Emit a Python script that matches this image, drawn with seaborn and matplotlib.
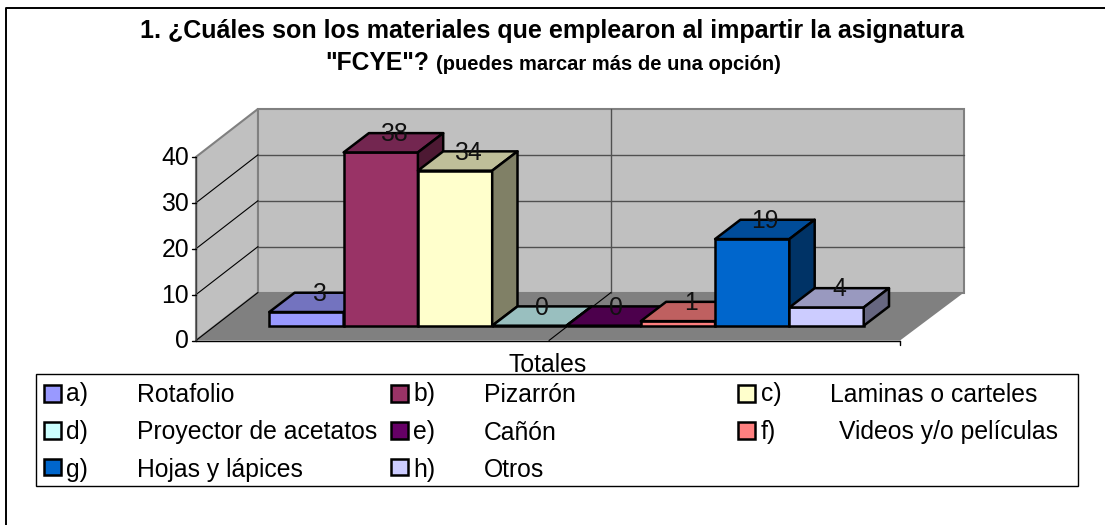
import matplotlib
matplotlib.use("Agg")
import matplotlib.pyplot as plt
from matplotlib.patches import Polygon, Rectangle
import pandas as pd
import seaborn as sns

letters = ["a)", "b)", "c)", "d)", "e)", "f)", "g)", "h)"]
names = ["Rotafolio", "Pizarrón", "Laminas o carteles", "Proyector de acetatos",
         "Cañón", "Videos y/o películas", "Hojas y lápices", "Otros"]
totales = [3, 38, 34, 0, 0, 1, 19, 4]
y_ticks = [0, 10, 20, 30, 40]

front_colors = ["#9999FF", "#993366", "#FFFFCC", "#CCFFFF", "#660066", "#FF8080", "#0066CC", "#CCCCFF"]
top_colors = ["#7373BF", "#732650", "#BFBF99", "#99BFBF", "#4C004C", "#BF6060", "#004C99", "#9999BF"]
side_colors = ["#4D4D80", "#4D1933", "#808066", "#668080", "#330033", "#804040", "#003366", "#666680"]

W, H = 1105, 525
sns.set_style("white")
plt.rcParams['font.family'] = ['Liberation Sans', 'DejaVu Sans']
plt.rcParams['text.color'] = 'black'
fig = plt.figure(figsize=(W / 100, H / 100), dpi=100)

# background axes in pixels, for the frame, walls and legend box
bg = fig.add_axes([0, 0, 1, 1])
bg.set_xlim(0, W)
bg.set_ylim(H, 0)
bg.axis("off")

bg.plot([6, 6, 1105], [525, 7.5, 7.5], color="black", lw=1.4)

# walls and floor
UNIT = 4.59
WALL_X0, WALL_X1, WALL_Y0 = 258, 964, 292.5
FRONT_X0, FRONT_X1, FRONT_Y0 = 196, 900, 340.5
WALL_TOP = WALL_Y0 - 40 * UNIT
bg.add_patch(Polygon([(WALL_X0, WALL_Y0), (WALL_X1, WALL_Y0), (FRONT_X1, FRONT_Y0), (FRONT_X0, FRONT_Y0)],
                     fc="#808080", ec="none"))
bg.add_patch(Polygon([(FRONT_X0, FRONT_Y0), (WALL_X0, WALL_Y0), (WALL_X0, WALL_TOP), (FRONT_X0, FRONT_Y0 - 40 * UNIT)],
                     fc="#C0C0C0", ec="#808080", lw=1.5))
bg.add_patch(Rectangle((WALL_X0, WALL_TOP), WALL_X1 - WALL_X0, WALL_Y0 - WALL_TOP,
                       fc="#C0C0C0", ec="#808080", lw=1.5))
for t in y_ticks[1:-1]:
    y = WALL_Y0 - t * UNIT
    bg.plot([WALL_X0, WALL_X1], [y, y], color="#505050", lw=1)
for t in y_ticks[:-1]:
    y = FRONT_Y0 - t * UNIT
    bg.plot([FRONT_X0, WALL_X0], [y, y - (FRONT_Y0 - WALL_Y0)], color="black", lw=0.8)
bg.plot([611, 611], [WALL_TOP, WALL_Y0], color="#505050", lw=1)
bg.plot([611, 549], [WALL_Y0, FRONT_Y0], color="black", lw=0.8)
bg.plot([FRONT_X0, FRONT_X0], [FRONT_Y0 - 40 * UNIT, FRONT_Y0], color="#404040", lw=1)
bg.plot([FRONT_X0, FRONT_X1], [FRONT_Y0, FRONT_Y0], color="black", lw=1)
bg.plot([FRONT_X1, FRONT_X1], [FRONT_Y0, FRONT_Y0 + 4], color="black", lw=1)
for t in y_ticks:
    y = FRONT_Y0 - t * UNIT
    bg.text(FRONT_X0 - 7, y + 8, str(t), ha="right", va="baseline", fontsize=17.8)
    bg.plot([FRONT_X0 - 4, FRONT_X0], [y, y], color="black", lw=1)

# bars: axes over the whole figure, data scale matches the front plane of the bars
BAR_W, BAR_BASE, BAR_UNIT = 74.3, 325.7, 4.56
BAR_LEFT = 269.3
DEPTH_X, DEPTH_Y = 25.3 / BAR_W, 19.3 / BAR_UNIT

ax = fig.add_axes([0, 0, 1, 1], facecolor="none")
df = pd.DataFrame({"opcion": letters, "total": totales})
sns.barplot(data=df, x="opcion", y="total", hue="opcion", palette=front_colors, width=1,
            legend=False, ax=ax, edgecolor="black", linewidth=1.8, saturation=1)
ax.set_xlim(-BAR_LEFT / BAR_W - 0.5, (W - BAR_LEFT) / BAR_W - 0.5)
ax.set_ylim((BAR_BASE - H) / BAR_UNIT, BAR_BASE / BAR_UNIT)
ax.axis("off")

bars = sorted(ax.patches, key=lambda p: p.get_x())
for i, bar in enumerate(bars):
    x0, x1, h = bar.get_x(), bar.get_x() + bar.get_width(), bar.get_height()
    z = 3 + i
    bar.set_zorder(z)
    ax.add_patch(Polygon([(x0, h), (x1, h), (x1 + DEPTH_X, h + DEPTH_Y), (x0 + DEPTH_X, h + DEPTH_Y)],
                         fc=top_colors[i], ec="black", lw=1.8, joinstyle="round", zorder=z))
    ax.add_patch(Polygon([(x1, 0), (x1, h), (x1 + DEPTH_X, h + DEPTH_Y), (x1 + DEPTH_X, DEPTH_Y)],
                         fc=side_colors[i], ec="black", lw=1.8, joinstyle="round", zorder=z))
for i, bar in enumerate(bars):
    ax.text(bar.get_x() + bar.get_width() / 2 + DEPTH_X / 2, bar.get_height() + DEPTH_Y / 2 + 0.3,
            str(totales[i]), ha="center", va="baseline", fontsize=17.8, color="#111111", zorder=20)

# title and category label
bg.text(552.5, 38, "1. ¿Cuáles son los materiales que emplearon al impartir la asignatura",
        ha="center", va="baseline", fontsize=18, fontweight="bold", zorder=30)
bg.text(325, 69.5, '"FCYE"?', ha="left", va="baseline", fontsize=17.7, fontweight="bold", zorder=30)
bg.text(436, 69.5, "(puedes marcar más de una opción)", ha="left", va="baseline", fontsize=14.5,
        fontweight="bold", zorder=30)
bg.text(548, 372.5, "Totales", ha="center", va="baseline", fontsize=17.8, zorder=1)

# legend
lg = fig.add_axes([0, 0, 1, 1], facecolor="none")
lg.set_xlim(0, W)
lg.set_ylim(H, 0)
lg.axis("off")
lg.add_patch(Rectangle((36, 374), 1078 - 36, 485.5 - 374, fc="white", ec="black", lw=1))
swatch_x = [44, 391, 738]
swatch_y = [385, 422, 458.5]
letter_x = [66, 413, 761]
name_x = [[137, 484, 830], [137, 484, 839], [137, 484, 830]]
baseline_y = [401.5, 439.5, 477]
for i, letter in enumerate(letters):
    r, c = i // 3, i % 3
    lg.add_patch(Rectangle((swatch_x[c], swatch_y[r]), 16.5, 16.5, fc=front_colors[i], ec="black", lw=1.8))
    lg.text(letter_x[c], baseline_y[r], letter, ha="left", va="baseline", fontsize=17.8)
    lg.text(name_x[r][c], baseline_y[r], names[i], ha="left", va="baseline", fontsize=17.8)

fig.savefig("out.png", dpi=100)
